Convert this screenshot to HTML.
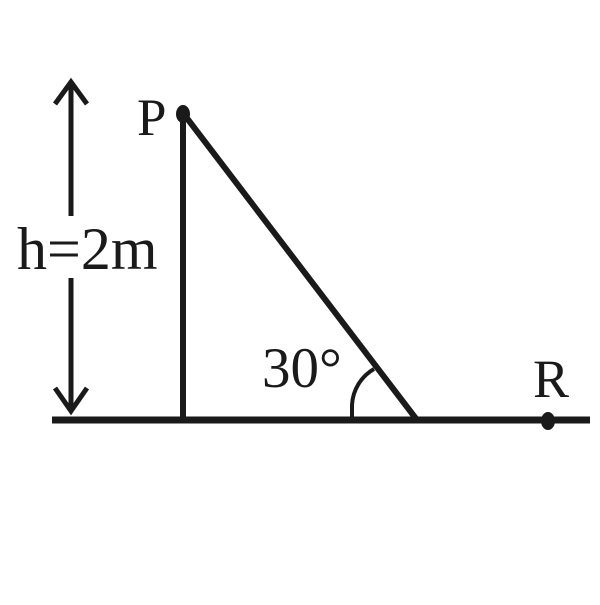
<!DOCTYPE html>
<html><head><style>body{margin:0;background:#fff} text{font-family:"Liberation Serif","Times New Roman",serif}</style></head><body>
<svg width="600" height="600" viewBox="0 0 600 600" xmlns="http://www.w3.org/2000/svg">
<rect width="600" height="600" fill="#fff"/>
<g stroke="#1a1a1a" fill="none" stroke-linecap="butt">
<line x1="52" y1="420" x2="590" y2="420" stroke-width="7"/>
<line x1="183" y1="115" x2="183" y2="420" stroke-width="6"/>
<line x1="183" y1="113" x2="417" y2="420" stroke-width="6"/>
<path d="M352 420 L352 405 A44 44 0 0 1 374 369" stroke-width="4"/>
<line x1="71" y1="82" x2="71" y2="216" stroke-width="5"/>
<line x1="71" y1="278" x2="71" y2="410" stroke-width="5"/>
<polyline points="55,104 71,82 87,104" stroke-width="5"/>
<polyline points="55,388 71,411 87,388" stroke-width="5"/>
</g>
<ellipse cx="183" cy="114" rx="7" ry="9" fill="#1a1a1a"/>
<ellipse cx="548" cy="421" rx="7" ry="9" fill="#1a1a1a"/>
<g fill="#1a1a1a">
<text x="17" y="269" font-size="60">h=2m</text>
<text x="137" y="135" font-size="53">P</text>
<text x="262" y="387" font-size="57">30°</text>
<text x="533" y="397" font-size="54">R</text>
</g>
</svg>
</body></html>
